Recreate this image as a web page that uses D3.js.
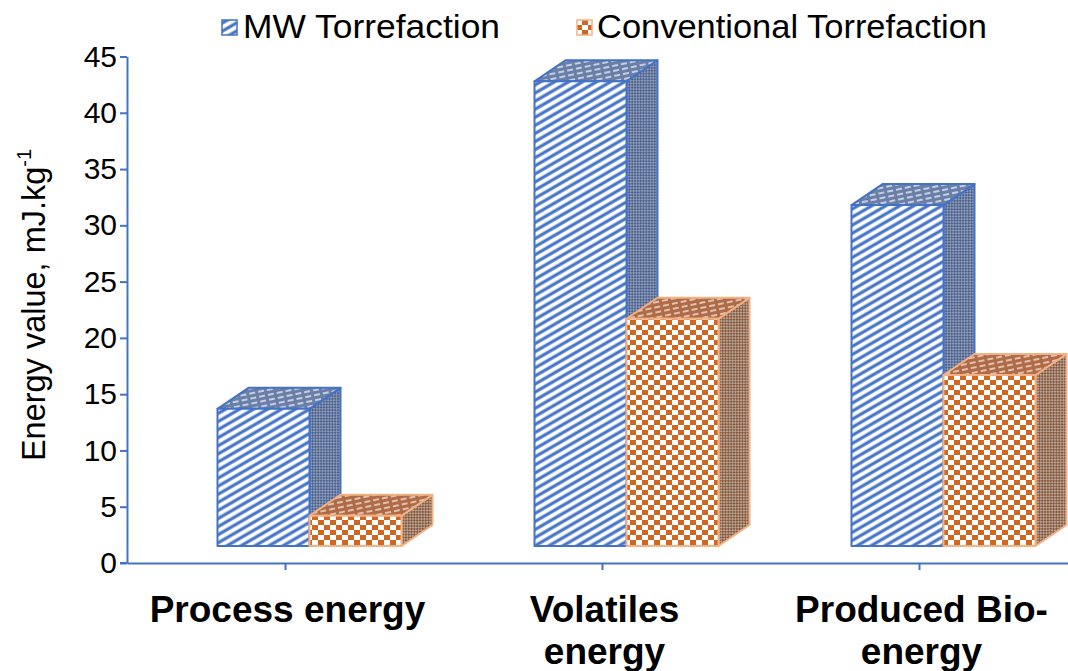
<!DOCTYPE html>
<html><head><meta charset="utf-8">
<script src="https://cdn.jsdelivr.net/npm/d3@7"></script>
<style>
html,body{margin:0;padding:0;background:#fff;}
svg{display:block;font-family:"Liberation Sans",Arial,sans-serif;}
</style></head>
<body>
<svg id="chart" width="1068" height="671"></svg>
<script>
// ---- data ----
const categories = ["Process energy", "Volatiles energy", "Produced Bio-energy"];
const categoryLines = [["Process energy"], ["Volatiles", "energy"], ["Produced Bio-", "energy"]];
const seriesNames = ["MW Torrefaction", "Conventional Torrefaction"];
const mwValues = [13.7, 42.8, 31.8];
const convValues = [4.2, 21.7, 16.7];
const yTicks = [0, 5, 10, 15, 20, 25, 30, 35, 40, 45];
const yTitle = "Energy value, mJ.kg";
const yTitleSup = "-1";

const svg = d3.select("#chart");
const defs = svg.append("defs");

// ---- patterns ----
function pat(id, w, h, bg, rects, transform) {
  const p = defs.append("pattern").attr("id", id).attr("patternUnits", "userSpaceOnUse")
    .attr("width", w).attr("height", h);
  if (transform) p.attr("patternTransform", transform);
  p.append("rect").attr("width", w).attr("height", h).attr("fill", bg);
  rects.forEach(r => p.append("rect").attr("x", r[0]).attr("y", r[1]).attr("width", r[2]).attr("height", r[3]).attr("fill", r[4]));
}
// MW front: blue/white diagonal stripes
pat("mwFront", 8, 7, "#4472C4", [[0, 0, 8, 3, "#ffffff"], [0, 3, 8, 1, "#a9c0e8"], [0, 6, 8, 1, "#7f9fd8"]], "rotate(-30)");
// MW side: dark blue-grey crosshatch
pat("mwSide", 4, 4, "#4b6190", [[0, 0, 2, 2, "#8e9bb5"], [2, 2, 2, 2, "#8e9bb5"]], "rotate(45)");
// MW top: grey-blue with light dashes
pat("mwTop", 9, 5, "#6a7fa8", [[0, 1, 6, 2, "#c6cfe0"]], "rotate(-12)");
// Conventional front: orange/white check
pat("cvFront", 12, 10, "#d0661f", [[0, 0, 6, 5, "#ffffff"], [6, 5, 6, 5, "#ffffff"]]);
// Conventional side: brown crosshatch
pat("cvSide", 4, 4, "#8b5634", [[0, 0, 2, 2, "#b3a59c"], [2, 2, 2, 2, "#b3a59c"]], "rotate(45)");
// Conventional top: brown with light dashes
pat("cvTop", 9, 5, "#b06a45", [[0, 1, 6, 2, "#dcc3b3"]], "rotate(-12)");

// ---- scales ----
const x = d3.scaleBand().domain(categories).range([127, 1078]).paddingInner(0).paddingOuter(0);
const y = d3.scaleLinear().domain([0, 45]).range([563, 56.5]);

// 3D projection constants
const barW = 92, groupShift = -68, depthX = 31, depthY = -21, floorLift = 17;

// ---- axes ----
const axisColor = "#4472C4";
const yAxis = svg.append("g").attr("transform", "translate(127,0)")
  .call(d3.axisLeft(y).tickValues(yTicks).tickSize(7).tickSizeOuter(0).tickPadding(3).tickFormat(d3.format("d")));
yAxis.select(".domain").attr("stroke", axisColor).attr("stroke-width", 2);
yAxis.selectAll(".tick line").attr("stroke", axisColor).attr("stroke-width", 2);
yAxis.selectAll(".tick text").attr("fill", "#000").attr("font-size", 30)
  .attr("font-family", "'Liberation Sans',Arial,sans-serif");

const xAxis = svg.append("g").attr("transform", "translate(0,563)")
  .call(d3.axisBottom(x).tickSize(7).tickSizeOuter(0).tickFormat(""));
xAxis.select(".domain").attr("stroke", axisColor).attr("stroke-width", 2);
xAxis.selectAll(".tick line").attr("stroke", axisColor).attr("stroke-width", 2);
svg.append("line").attr("x1", 120).attr("x2", 127).attr("y1", 563).attr("y2", 563)
  .attr("stroke", axisColor).attr("stroke-width", 2);

// category labels
categories.forEach((c, i) => {
  const t = svg.append("text").attr("x", x(c) + x.bandwidth() / 2 + 2).attr("y", 622)
    .attr("text-anchor", "middle").attr("font-weight", "bold").attr("font-size", 37).attr("fill", "#000");
  categoryLines[i].forEach((ln, j) => {
    t.append("tspan").attr("x", x(c) + x.bandwidth() / 2 + 2).attr("dy", j === 0 ? 0 : 42).text(ln);
  });
});

// y title
const yt = svg.append("text").attr("transform", "translate(45,305) rotate(-90)")
  .attr("text-anchor", "middle").attr("font-size", 32.5).attr("fill", "#000");
yt.append("tspan").text(yTitle);
yt.append("tspan").attr("font-size", 20).attr("dy", -14).text(yTitleSup);

// ---- 3D bars ----
function drawBar(x0, v, front, side, top, stroke) {
  const yt = y(v), yb = y(0) - floorLift, x1 = x0 + barW;
  const g = svg.append("g").attr("stroke", stroke).attr("stroke-width", 2).attr("stroke-linejoin", "round");
  g.append("path").attr("fill", `url(#${side})`)
    .attr("d", `M${x1},${yt} L${x1 + depthX},${yt + depthY} L${x1 + depthX},${yb + depthY} L${x1},${yb} Z`);
  g.append("path").attr("fill", `url(#${top})`)
    .attr("d", `M${x0},${yt} L${x0 + depthX},${yt + depthY} L${x1 + depthX},${yt + depthY} L${x1},${yt} Z`);
  g.append("rect").attr("x", x0).attr("y", yt).attr("width", barW).attr("height", yb - yt)
    .attr("fill", `url(#${front})`);
}
categories.forEach((c, i) => {
  const cx = x(c) + x.bandwidth() / 2;
  drawBar(cx + groupShift, mwValues[i], "mwFront", "mwSide", "mwTop", "#4472C4");
  drawBar(cx + groupShift + barW, convValues[i], "cvFront", "cvSide", "cvTop", "#F4B183");
});

// ---- legend ----
const legendItems = [
  { name: seriesNames[0], sx: 222, tx: 243, len: 257, fill: "mwFront", stroke: "#4472C4" },
  { name: seriesNames[1], sx: 577, tx: 597, len: 390, fill: "cvFront", stroke: "#F4B183" }
];
legendItems.forEach(d => {
  svg.append("rect").attr("x", d.sx).attr("y", 20).attr("width", 15).attr("height", 15)
    .attr("fill", `url(#${d.fill})`).attr("stroke", d.stroke).attr("stroke-width", 1.5);
  svg.append("text").attr("x", d.tx).attr("y", 38).attr("font-size", 33).attr("fill", "#000")
    .attr("textLength", d.len).attr("lengthAdjust", "spacingAndGlyphs").text(d.name);
});
</script>
</body></html>
